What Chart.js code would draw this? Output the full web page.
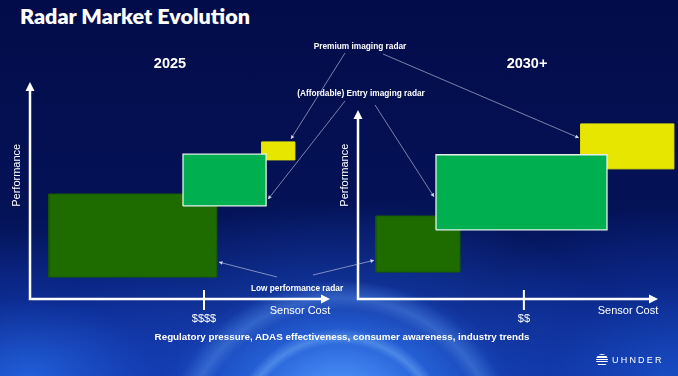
<!DOCTYPE html>
<html>
<head>
<meta charset="utf-8">
<script src="https://cdn.jsdelivr.net/npm/chart.js@4.4.1/dist/chart.umd.min.js"></script>
<style>
  html, body { margin: 0; padding: 0; }
  body {
    width: 678px; height: 376px; overflow: hidden; position: relative;
    font-family: "Liberation Sans", Arial, sans-serif; color: #fff;
    background:
      radial-gradient(circle at 340px 440px, rgba(0,0,0,0) 0 95px, rgba(140,200,255,0.35) 102px, rgba(0,0,0,0) 112px),
      radial-gradient(circle at 340px 460px, rgba(0,0,0,0) 0 150px, rgba(120,180,255,0.28) 162px, rgba(0,0,0,0) 180px),
      radial-gradient(ellipse 170px 110px at 340px 390px, rgba(90,160,255,0.8) 0%, rgba(50,120,240,0.5) 50%, rgba(0,0,0,0) 100%),
      radial-gradient(ellipse 320px 200px at 340px 400px, rgba(40,110,240,0.85) 0%, rgba(30,80,210,0.5) 45%, rgba(10,30,120,0) 100%),
      radial-gradient(ellipse 230px 150px at 30px 380px, rgba(40,110,240,0.8) 0%, rgba(20,60,190,0.4) 55%, rgba(0,0,0,0) 100%),
      radial-gradient(ellipse 220px 170px at 670px 376px, rgba(30,90,220,0.7) 0%, rgba(20,60,190,0.3) 55%, rgba(0,0,0,0) 100%),
      linear-gradient(180deg, #030c4a 0%, #041256 55%, #0a2a8a 100%);
  }
  canvas { position: absolute; left: 0; top: 0; }
  .t { position: absolute; white-space: nowrap; transform: translate(-50%, -50%); }
  .title { position: absolute; left: 20px; top: 3px; font-family: Lato, sans-serif; font-weight: 800; font-size: 21.5px; }
  .year { font-weight: 700; font-size: 14.5px; }
  .note { font-weight: 700; font-size: 8.3px; }
  .foot { font-weight: 700; font-size: 9.8px; }
  .logo { position: absolute; left: 596px; top: 354px; display: flex; align-items: center; }
  .logo i { display: block; width: 12px; height: 12px; border-radius: 50%;
    background: repeating-linear-gradient(180deg, #fff 0 1.2px, rgba(0,0,0,0) 1.2px 2.4px); }
  .logo span { font-size: 9px; letter-spacing: 2.2px; margin-left: 4px; }
</style>
</head>
<body>
<div class="title">Radar Market Evolution</div>
<canvas id="left" width="678" height="376"></canvas>
<canvas id="right" width="678" height="376"></canvas>
<div class="logo"><i></i><span>UHNDER</span></div>
<script>
const segmentNames = ["Low performance radar", "(Affordable) Entry imaging radar", "Premium imaging radar"];
const panelTitles = ["2025", "2030+"];
const cost2025From = [6.3, 51.0, 77.3];
const cost2025To = [62.3, 78.7, 88.3];
const perf2025From = [10.1, 42.9, 64.1];
const perf2025To = [48.4, 66.8, 72.4];
const cost2030From = [6.0, 26.0, 74.3];
const cost2030To = [34.0, 83.0, 105.3];
const perf2030From = [12.4, 31.8, 59.9];
const perf2030To = [38.2, 66.4, 80.6];
const costTickValues = [58.0, 55.3];
const costTickLabels = ["$$$$", "$$"];
const xAxisTitle = "Sensor Cost";
const yAxisTitle = "Performance";
const driversText = "Regulatory pressure, ADAS effectiveness, consumer awareness, industry trends";

const fills = ["#1e6b00", "#00af50", "#e6e600"];
const borders = ["#195a03", "#e4f2ea", "#e6e600"];
const drawOrder = [1, 0, 2]; // entry box sits on top of the others

// text labels
function addText(txt, cls, x, y) {
  const d = document.createElement("div");
  d.className = "t " + cls;
  d.textContent = txt;
  d.style.left = x + "px";
  d.style.top = y + "px";
  document.body.appendChild(d);
}
addText(panelTitles[0], "year", 170, 63);
addText(panelTitles[1], "year", 527, 63);
addText(segmentNames[2], "note", 360, 46);
addText(segmentNames[1], "note", 361, 93);
addText(segmentNames[0], "note", 297, 288);
addText(driversText, "foot", 342, 336);

const axesPlugin = {
  id: "panelAxes",
  afterDatasetsDraw(chart, args, o) {
    const { ctx, scales: { x, y } } = chart;
    const x0 = x.getPixelForValue(0), y0 = y.getPixelForValue(0);
    const xe = x.getPixelForValue(o.xEnd), ye = y.getPixelForValue(o.yEnd);
    ctx.save();
    ctx.strokeStyle = "#fff";
    ctx.fillStyle = "#fff";
    ctx.lineWidth = 2.5;
    ctx.beginPath();
    ctx.moveTo(x0, ye + 8);
    ctx.lineTo(x0, y0);
    ctx.lineTo(xe - 8, y0);
    ctx.stroke();
    ctx.beginPath();
    ctx.moveTo(x0, ye); ctx.lineTo(x0 - 4.5, ye + 9); ctx.lineTo(x0 + 4.5, ye + 9);
    ctx.closePath(); ctx.fill();
    ctx.beginPath();
    ctx.moveTo(xe, y0); ctx.lineTo(xe - 9, y0 - 4.5); ctx.lineTo(xe - 9, y0 + 4.5);
    ctx.closePath(); ctx.fill();

    // single cost tick crossing the axis
    const tx = x.getPixelForValue(o.tick);
    ctx.lineWidth = 2;
    ctx.beginPath();
    ctx.moveTo(tx, y0 - 9);
    ctx.lineTo(tx, y0 + 11);
    ctx.stroke();

    ctx.font = '11px "Liberation Sans", Arial, sans-serif';
    ctx.textAlign = "center";
    ctx.textBaseline = "middle";
    ctx.fillText(o.tickLabel, tx, y0 + 20);
    ctx.fillText(xAxisTitle, xe - 30, y0 + 12);
    ctx.translate(x0 - 13, y.getPixelForValue(57));
    ctx.rotate(-Math.PI / 2);
    ctx.fillText(yAxisTitle, 0, 0);
    ctx.restore();

    // callout lines from the labels to the boxes
    ctx.save();
    ctx.strokeStyle = "rgba(205,210,235,0.75)";
    ctx.fillStyle = "rgba(230,232,245,0.9)";
    ctx.lineWidth = 0.8;
    o.callouts.forEach(c => {
      const xf = x.getPixelForValue(o.costFrom[c.seg]), xt = x.getPixelForValue(o.costTo[c.seg]);
      const yf = y.getPixelForValue(o.perfFrom[c.seg]), yt = y.getPixelForValue(o.perfTo[c.seg]);
      let px, py;
      if (c.side === "top") { px = xf + c.t * (xt - xf); py = yt - 3; }
      else if (c.side === "right") { px = xt + 2; py = yf + c.t * (yt - yf); }
      else { px = xf - 2; py = yf + c.t * (yt - yf); }
      ctx.beginPath();
      ctx.moveTo(c.from[0], c.from[1]);
      ctx.lineTo(px, py);
      ctx.stroke();
      const a = Math.atan2(py - c.from[1], px - c.from[0]);
      ctx.beginPath();
      ctx.moveTo(px, py);
      ctx.lineTo(px - 4 * Math.cos(a - 0.5), py - 4 * Math.sin(a - 0.5));
      ctx.lineTo(px - 4 * Math.cos(a + 0.5), py - 4 * Math.sin(a + 0.5));
      ctx.closePath();
      ctx.fill();
    });
    ctx.restore();
  }
};

function boxData(cf, ct, pf, pt) {
  return [{ x: cf, y: pf }, { x: ct, y: pf }, { x: ct, y: pt }, { x: cf, y: pt }, { x: cf, y: pf }];
}

function makePanel(id, costFrom, costTo, perfFrom, perfTo, tick, tickLabel, xMax, yMax, pad, callouts) {
  const datasets = segmentNames.map((name, i) => ({
    label: name,
    data: boxData(costFrom[i], costTo[i], perfFrom[i], perfTo[i]),
    showLine: true,
    fill: "shape",
    tension: 0,
    backgroundColor: fills[i],
    borderColor: borders[i],
    borderWidth: i === 1 ? 1.3 : 1,
    borderJoinStyle: "miter",
    pointRadius: 0,
    order: drawOrder[i]
  }));
  return new Chart(document.getElementById(id), {
    type: "scatter",
    data: { datasets },
    options: {
      responsive: false,
      animation: false,
      layout: { padding: pad },
      scales: {
        x: { type: "linear", min: 0, max: xMax, display: false },
        y: { type: "linear", min: 0, max: yMax, display: false }
      },
      plugins: {
        legend: { display: false },
        tooltip: { enabled: false },
        panelAxes: {
          xEnd: 100, yEnd: yMax === 100 ? 100 : 87, tick, tickLabel,
          costFrom, costTo, perfFrom, perfTo, callouts
        }
      }
    },
    plugins: [axesPlugin]
  });
}

makePanel("left", cost2025From, cost2025To, perf2025From, perf2025To,
  costTickValues[0], costTickLabels[0], 100, 100,
  { left: 30, top: 82, right: 348, bottom: 77 },
  [
    { seg: 2, side: "top", t: 0.88, from: [345, 53] },
    { seg: 1, side: "right", t: 0.13, from: [345, 101] },
    { seg: 0, side: "right", t: 0.18, from: [277, 277] }
  ]);

makePanel("right", cost2030From, cost2030To, perf2030From, perf2030To,
  costTickValues[1], costTickLabels[1], 106, 87,
  { left: 358, top: 110, right: 2, bottom: 77 },
  [
    { seg: 2, side: "left", t: 0.69, from: [383, 54] },
    { seg: 1, side: "left", t: 0.44, from: [375, 105] },
    { seg: 0, side: "left", t: 0.21, from: [313, 275] }
  ]);
</script>
</body>
</html>
